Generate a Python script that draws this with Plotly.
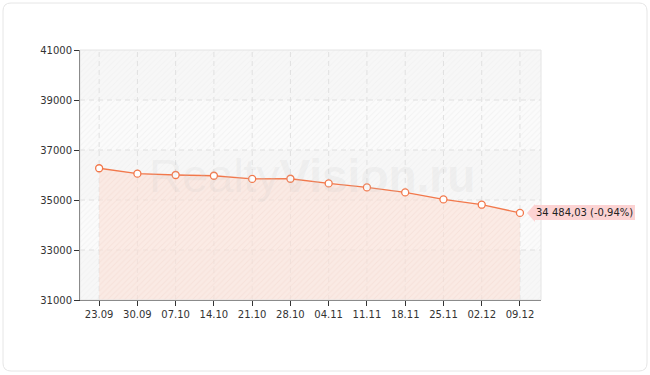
import plotly.graph_objects as go

dates = ["23.09", "30.09", "07.10", "14.10", "21.10", "28.10", "04.11", "11.11", "18.11", "25.11", "02.12", "09.12"]
values = [36270, 36055, 36000, 35970, 35845, 35850, 35665, 35505, 35305, 35025, 34811, 34484.03]
last_label = "34 484,03 (-0,94%)"
y_ticks = [31000, 33000, 35000, 37000, 39000, 41000]

x_idx = list(range(len(dates)))
x_min, x_max = -0.5, len(dates) - 1 + 0.55
y_min, y_max = y_ticks[0], y_ticks[-1]

line_color = "#f2784b"
font_family = "DejaVu Sans"
grid_color = "#e0e0e0"

fig = go.Figure()

# hatched background over the plot area
fig.add_trace(go.Scatter(
    x=[x_min, x_max, x_max, x_min, x_min],
    y=[y_min, y_min, y_max, y_max, y_min],
    fill="toself", mode="none", hoverinfo="skip", showlegend=False,
    fillcolor="#f7f7f7",
    fillpattern=dict(shape="/", bgcolor="#f7f7f7", fgcolor="#ececec", size=4, solidity=0.25),
))
# alternating lighter bands
for i in range(1, len(y_ticks) - 1, 2):
    lo, hi = y_ticks[i], y_ticks[i + 1]
    fig.add_trace(go.Scatter(
        x=[x_min, x_max, x_max, x_min, x_min],
        y=[lo, lo, hi, hi, lo],
        fill="toself", mode="none", hoverinfo="skip", showlegend=False,
        fillcolor="#fbfbfb",
        fillpattern=dict(shape="/", bgcolor="#fbfbfb", fgcolor="#eaeaea", size=4, solidity=0.25),
    ))

# dashed grid drawn above the hatched background
gx, gy = [], []
for xi in x_idx:
    gx += [xi, xi, None]
    gy += [y_min, y_max, None]
for yv in y_ticks[1:-1]:
    gx += [x_min, x_max, None]
    gy += [yv, yv, None]
fig.add_trace(go.Scatter(
    x=gx, y=gy, mode="lines", hoverinfo="skip", showlegend=False,
    line=dict(color=grid_color, width=1, dash="5px,4px"),
))

# area + line
fig.add_trace(go.Scatter(
    x=x_idx, y=values, mode="lines+markers", showlegend=False,
    line=dict(color=line_color, width=1.3),
    marker=dict(size=7, color="white", line=dict(color=line_color, width=1.3)),
    fill="tozeroy",
    fillcolor="rgba(252,225,215,0.6)",
    fillpattern=dict(shape="/", bgcolor="rgba(252,225,215,0.6)",
                     fgcolor="rgba(238,196,182,0.35)", size=4, solidity=0.25),
))

# watermark
fig.add_annotation(
    xref="paper", yref="paper", x=0.503, y=0.496, xanchor="center", yanchor="middle",
    text="Realty<b>Vision.ru</b>", showarrow=False,
    font=dict(family="Liberation Sans", size=46, color="rgba(200,200,200,0.18)"),
)

# value tag
fig.add_annotation(
    x=x_idx[-1], y=values[-1], xref="x", yref="y",
    text=last_label, showarrow=False, xanchor="left", yanchor="middle",
    xshift=14, bgcolor="#fcd3d3", bordercolor="#f6c4c4", borderwidth=0, borderpad=2,
    font=dict(family=font_family, size=10, color="#222"),
)
fig.add_shape(
    type="path", xref="x", yref="y", xsizemode="pixel", ysizemode="pixel",
    xanchor=x_idx[-1], yanchor=values[-1],
    path="M 7 0 L 15 9 L 15 -9 Z", fillcolor="#fcd3d3", line=dict(width=0),
)

# card border with rounded corners (paper coords)
pw, ph = 461.0, 250.0
x0, x1 = (3 - 80) / pw, (647 - 80) / pw
y0, y1 = (300 - 371) / ph, (300 - 3) / ph
rx, ry = 8 / pw, 8 / ph
card = (f"M {x0+rx} {y1} L {x1-rx} {y1} Q {x1} {y1} {x1} {y1-ry} "
        f"L {x1} {y0+ry} Q {x1} {y0} {x1-rx} {y0} L {x0+rx} {y0} "
        f"Q {x0} {y0} {x0} {y0+ry} L {x0} {y1-ry} Q {x0} {y1} {x0+rx} {y1} Z")
fig.add_shape(type="path", xref="paper", yref="paper", path=card,
              line=dict(color="#e6e6e6", width=1), layer="below")

# plot frame (top/right light border)
fig.add_shape(type="rect", xref="paper", yref="paper", x0=0, x1=1, y0=0, y1=1,
              line=dict(color="#e4e4e4", width=1), layer="above")

fig.update_layout(
    width=650, height=375,
    margin=dict(l=80, r=109, t=50, b=75),
    paper_bgcolor="white", plot_bgcolor="#f7f7f7",
    font=dict(family=font_family, size=10, color="#333"),
    xaxis=dict(
        range=[x_min, x_max], tickvals=x_idx, ticktext=dates,
        showgrid=False,
        showline=True, linecolor="#333", linewidth=1,
        ticks="outside", ticklen=5, tickcolor="#333", zeroline=False,
        tickfont=dict(family=font_family, size=10, color="#333"),
    ),
    yaxis=dict(
        range=[y_min, y_max], tickvals=y_ticks, ticktext=[str(v) for v in y_ticks],
        showgrid=False,
        showline=True, linecolor="#333", linewidth=1,
        ticks="outside", ticklen=5, tickcolor="#333", zeroline=False,
        tickfont=dict(family=font_family, size=10, color="#333"),
    ),
)

fig.write_html("out.html")
